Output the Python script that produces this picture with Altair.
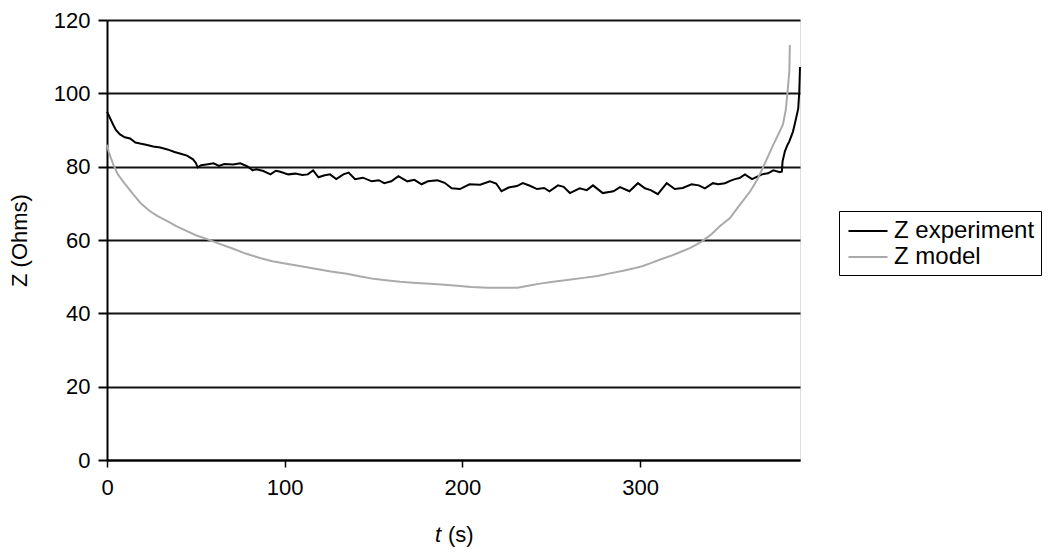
import altair as alt
import pandas as pd

t_exp = [0, 1, 3.4, 5, 7.3, 10, 13, 16, 18.6, 22, 26, 30, 34, 38, 41, 45, 48.4, 50, 51, 53, 56, 60, 63, 66,
         71, 75, 79, 82, 84, 88, 92, 95, 97, 100, 102, 106, 110, 113, 116, 119, 122, 125.5, 129, 133, 136,
         139.6, 144, 149, 153, 156, 160, 164, 169, 173, 177, 180.6, 186, 190, 194, 198.6, 204, 210, 215.5,
         219, 222, 226, 230.7, 234, 238, 242, 246, 249, 253.8, 257, 260.5, 266, 270, 273.5, 279, 285, 288.7,
         294, 298.8, 302.7, 306, 310, 315, 319.5, 324, 329, 333, 336.5, 341, 344, 347.8, 351, 353.4, 356,
         359, 363, 366, 368.6, 372, 375, 378.7, 379.8, 380.2, 381.5, 383, 384, 386, 387, 389, 389.6, 390]
z_exp = [95.0, 94.0, 91.5, 90.0, 88.8, 88.0, 87.7, 86.6, 86.3, 86.0, 85.5, 85.2, 84.7, 84.0, 83.6, 83.0,
         82.0, 81.0, 79.8, 80.4, 80.6, 80.9, 80.2, 80.7, 80.6, 80.9, 80.1, 79.0, 79.3, 78.8, 77.9, 78.9,
         78.7, 78.2, 77.9, 78.1, 77.7, 77.9, 79.0, 77.1, 77.6, 77.9, 76.6, 77.9, 78.4, 76.6, 77.0, 76.0,
         76.3, 75.5, 76.0, 77.4, 76.0, 76.4, 75.2, 76.0, 76.3, 75.6, 74.1, 73.9, 75.2, 75.1, 76.0, 75.4,
         73.3, 74.3, 74.7, 75.5, 74.8, 73.9, 74.2, 73.3, 74.9, 74.5, 72.8, 74.1, 73.6, 74.9, 72.8, 73.3,
         74.4, 73.3, 75.5, 74.1, 73.6, 72.5, 75.5, 73.9, 74.2, 75.2, 74.9, 74.1, 75.5, 75.2, 75.5, 76.2,
         76.6, 76.9, 77.9, 76.6, 77.3, 77.9, 78.2, 79.0, 78.5, 78.7, 81.5, 84.2, 86.0, 86.9, 89.5, 91.5,
         95.8, 100.5, 107.2]

t_mod = [0, 1, 3.5, 6, 9, 14.7, 19, 24, 28.5, 33.7, 39, 45, 50, 56, 63, 71, 78, 86, 93, 101, 110, 118, 126,
         135, 142, 150, 157, 165, 174, 182, 190, 197, 205, 214, 222, 231, 237, 243.7, 251, 259, 267, 276,
         283, 290.5, 296, 301.6, 306, 311, 318, 323, 328, 332, 335, 340, 345, 350.6, 356, 362, 366, 369,
         372, 375, 378, 380.4, 382, 383, 384, 384.3]
z_mod = [86.0, 84.0, 80.6, 78.0, 76.0, 72.5, 70.0, 67.9, 66.5, 65.2, 63.8, 62.4, 61.3, 60.3, 59.0, 57.6,
         56.3, 55.1, 54.2, 53.5, 52.8, 52.1, 51.4, 50.8, 50.1, 49.4, 49.0, 48.6, 48.3, 48.1, 47.8, 47.5,
         47.2, 47.0, 47.0, 47.0, 47.5, 48.1, 48.6, 49.1, 49.6, 50.2, 50.9, 51.6, 52.2, 52.9, 53.7, 54.6,
         55.8, 56.8, 57.8, 58.8, 59.7, 61.5, 63.8, 66.0, 69.5, 73.3, 76.5, 79.6, 82.8, 86.0, 89.0, 91.5,
         95.5, 100.5, 106.0, 113.2]

series_names = ["Z experiment", "Z model"]
series_colors = ["#000000", "#aaaaaa"]
x_ticks = [0, 100, 200, 300]
y_ticks = [0, 20, 40, 60, 80, 100, 120]
x_title_parts = ["t", "(s)"]

df = pd.concat([
    pd.DataFrame({"t": t_exp, "Z": z_exp, "series": series_names[0], "order": range(len(t_exp))}),
    pd.DataFrame({"t": t_mod, "Z": z_mod, "series": series_names[1], "order": range(len(t_mod))}),
])

FONT = "Liberation Sans"
W, H = 693, 440

lines = alt.Chart(df).mark_line(strokeWidth=2).encode(
    x=alt.X("t:Q", title=None,
            scale=alt.Scale(domain=[0, 390], nice=False, zero=False),
            axis=alt.Axis(values=x_ticks, grid=False, labelFontSize=22, labelFont=FONT,
                          domainColor="#000000", domainWidth=2, tickColor="#000000", tickWidth=1.5,
                          tickSize=7, labelPadding=10, labelColor="#000000", labelFlush=False)),
    y=alt.Y("Z:Q", title="Z (Ohms)",
            scale=alt.Scale(domain=[0, 120], nice=False),
            axis=alt.Axis(values=y_ticks, grid=True, gridColor="#111111", gridWidth=2,
                          labelFontSize=22, titleFontSize=22, labelFont=FONT, titleFont=FONT,
                          titleFontWeight="normal", domainColor="#000000", domainWidth=2,
                          tickColor="#000000", tickWidth=2, tickSize=9, labelPadding=8,
                          titlePadding=22, labelColor="#000000", titleColor="#000000")),
    color=alt.Color("series:N", scale=alt.Scale(domain=series_names, range=series_colors),
                    legend=alt.Legend(title=None, orient="none", legendX=732, legendY=191,
                                      symbolType="M-1.5,0H1.5", symbolSize=676, symbolStrokeWidth=2,
                                      symbolOffset=9, symbolFillColor="transparent",
                                      labelFontSize=24, labelFont=FONT, labelColor="#000000",
                                      strokeColor="#000000", fillColor="#ffffff", padding=6,
                                      rowPadding=0, labelOffset=12, labelLimit=300)),
    order="order:Q",
)

title_t = alt.Chart(pd.DataFrame({"label": [x_title_parts[0]]})).mark_text(
    font=FONT, fontSize=22, fontStyle="italic", align="center", baseline="middle", color="#000000"
).encode(text="label:N", x=alt.value(331), y=alt.value(H + 75))

title_s = alt.Chart(pd.DataFrame({"label": [x_title_parts[1]]})).mark_text(
    font=FONT, fontSize=22, align="left", baseline="middle", color="#000000"
).encode(text="label:N", x=alt.value(341), y=alt.value(H + 75))

chart = alt.layer(lines, title_t, title_s).properties(
    width=W, height=H,
    autosize=alt.AutoSizeParams(type="none"),
    padding={"left": 99, "top": 12, "right": 242, "bottom": 92},
).configure_view(stroke=None).configure(background="#ffffff")

chart.save("out.html", embed_options={"renderer": "svg", "actions": False})
